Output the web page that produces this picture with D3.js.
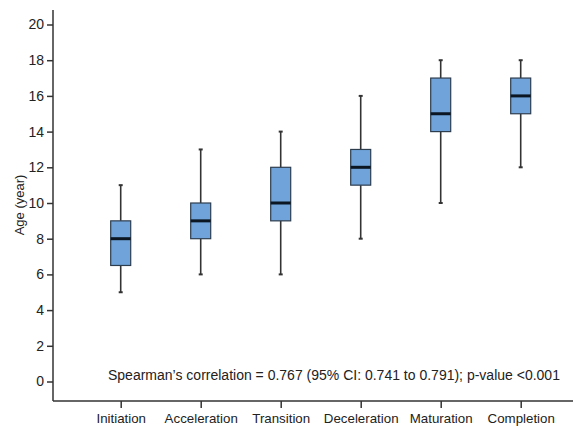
<!DOCTYPE html>
<html><head><meta charset="utf-8">
<script src="https://cdn.jsdelivr.net/npm/d3@7"></script>
<style>body{margin:0;background:#fff;}svg{display:block;font-family:"Liberation Sans",Arial,sans-serif;}</style>
</head><body>
<svg id="c" width="574" height="429"></svg>
<script>
const categories = ["Initiation","Acceleration","Transition","Deceleration","Maturation","Completion"];
const mins    = [5, 6, 6, 8, 10, 12];
const q1s     = [6.5, 8, 9, 11, 14, 15];
const medians = [8, 9, 10, 12, 15, 16];
const q3s     = [9, 10, 12, 13, 17, 17];
const maxs    = [11, 13, 14, 16, 18, 18];
const yTicks  = [0,2,4,6,8,10,12,14,16,18,20];
const annotation = "Spearman\u2019s correlation = 0.767 (95% CI: 0.741 to 0.791); p-value <0.001";

const svg = d3.select("#c");
const axisX0 = 53, axisX1 = 573, axisYTop = 10, axisYBot = 401;
const x = d3.scalePoint().domain(categories).range([120.7, 520.7]);
const y = d3.scaleLinear().domain([0,20]).range([381.5, 24.5]);
const ink = "#333";

svg.append("line").attr("x1",axisX0).attr("x2",axisX0).attr("y1",axisYTop).attr("y2",axisYBot)
  .attr("stroke",ink).attr("stroke-width",1.5);
svg.append("line").attr("x1",axisX0).attr("x2",axisX1).attr("y1",axisYBot).attr("y2",axisYBot)
  .attr("stroke",ink).attr("stroke-width",1.5);

const yAxis = d3.axisLeft(y).tickValues(yTicks).tickSize(6).tickPadding(3);
const gy = svg.append("g").attr("transform",`translate(${axisX0},0)`).call(yAxis);
gy.select(".domain").remove();
gy.selectAll(".tick line").attr("stroke",ink).attr("stroke-width",1.5);
gy.selectAll(".tick text").attr("fill","#222").style("font-size","14px");

const xAxis = d3.axisBottom(x).tickSize(7).tickPadding(6);
const gx = svg.append("g").attr("transform",`translate(0,${axisYBot})`).call(xAxis);
gx.select(".domain").remove();
gx.selectAll(".tick line").attr("stroke",ink).attr("stroke-width",1.5);
gx.selectAll(".tick text").attr("fill","#222").style("font-size","13.3px");

svg.append("text").attr("transform","translate(24,205) rotate(-90)")
  .attr("text-anchor","middle").attr("fill","#222").style("font-size","13px").text("Age (year)");

const data = categories.map((c,i)=>({c, min:mins[i], q1:q1s[i], med:medians[i], q3:q3s[i], max:maxs[i]}));
const bw = 20, cap = 4;
const g = svg.append("g").selectAll("g").data(data).join("g");
g.append("line").attr("x1",d=>x(d.c)).attr("x2",d=>x(d.c)).attr("y1",d=>y(d.max)).attr("y2",d=>y(d.q3))
  .attr("stroke",ink).attr("stroke-width",1.6);
g.append("line").attr("x1",d=>x(d.c)).attr("x2",d=>x(d.c)).attr("y1",d=>y(d.q1)).attr("y2",d=>y(d.min))
  .attr("stroke",ink).attr("stroke-width",1.6);
g.append("line").attr("x1",d=>x(d.c)-cap/2).attr("x2",d=>x(d.c)+cap/2).attr("y1",d=>y(d.max)).attr("y2",d=>y(d.max))
  .attr("stroke",ink).attr("stroke-width",2);
g.append("line").attr("x1",d=>x(d.c)-cap/2).attr("x2",d=>x(d.c)+cap/2).attr("y1",d=>y(d.min)).attr("y2",d=>y(d.min))
  .attr("stroke",ink).attr("stroke-width",2);
g.append("rect").attr("x",d=>x(d.c)-bw/2).attr("width",bw).attr("y",d=>y(d.q3)).attr("height",d=>y(d.q1)-y(d.q3))
  .attr("fill","#6fa3da").attr("stroke","#2e3d4e").attr("stroke-width",1.2);
g.append("line").attr("x1",d=>x(d.c)-bw/2).attr("x2",d=>x(d.c)+bw/2).attr("y1",d=>y(d.med)).attr("y2",d=>y(d.med))
  .attr("stroke","#0b1622").attr("stroke-width",3);

svg.append("text").attr("x",108).attr("y",380).attr("fill","#222").style("font-size","14px").text(annotation);
</script>
</body></html>
